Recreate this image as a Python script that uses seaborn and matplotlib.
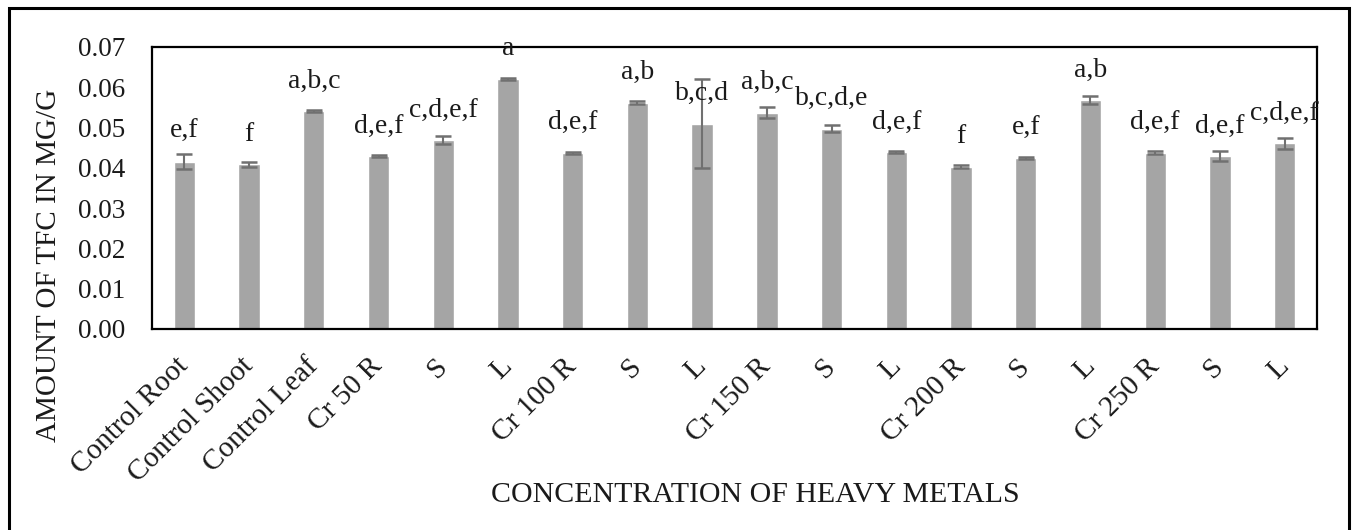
import matplotlib
matplotlib.use("Agg")
import matplotlib.pyplot as plt
import seaborn as sns
import pandas as pd
import numpy as np
from matplotlib.patches import Rectangle

categories = ["Control Root", "Control Shoot", "Control Leaf", "Cr 50 R", "S", "L",
              "Cr 100 R", "S", "L", "Cr 150 R", "S", "L",
              "Cr 200 R", "S", "L", "Cr 250 R", "S", "L"]
values = [0.0415, 0.0409, 0.0541, 0.0429, 0.0469, 0.0621,
          0.0437, 0.0562, 0.0510, 0.0537, 0.0497, 0.0439,
          0.0403, 0.0424, 0.0568, 0.0438, 0.0429, 0.0461]
errors = [0.0019, 0.0006, 0.0003, 0.0003, 0.0010, 0.0003,
          0.0003, 0.0003, 0.0110, 0.0014, 0.0009, 0.0003,
          0.0003, 0.0003, 0.0010, 0.0003, 0.0012, 0.0013]
letters = ["e,f", "f", "a,b,c", "d,e,f", "c,d,e,f", "a",
           "d,e,f", "a,b", "b,c,d", "a,b,c", "b,c,d,e", "d,e,f",
           "f", "e,f", "a,b", "d,e,f", "d,e,f", "c,d,e,f"]
yticks = [0.00, 0.01, 0.02, 0.03, 0.04, 0.05, 0.06, 0.07]

sns.set_theme(style="white")
plt.rcParams['font.family'] = ['Liberation Serif', 'DejaVu Serif']

W, H = 1359, 530
fig = plt.figure(figsize=(W / 100, H / 100), dpi=100)
ax = fig.add_axes([152 / W, 1 - 329 / H, (1317 - 152) / W, (329 - 47) / H])

df = pd.DataFrame({"key": [str(i) for i in range(len(categories))], "value": values})
sns.barplot(data=df, x="key", y="value", color="#a5a5a5", saturation=1,
            width=0.33, ax=ax, errorbar=None)
pos = np.arange(len(categories))
ax.errorbar(pos, values, yerr=errors, fmt="none", ecolor="#707070",
            elinewidth=1.5, capsize=6, capthick=1.8, zorder=3)

for x, v, t in zip(pos, values, letters):
    ax.annotate(t, xy=(x, v), xytext=(0, 17), textcoords="offset points",
                ha="center", va="baseline", fontsize=20, color="#1a1a1a",
                annotation_clip=False)

ax.set_ylim(0, 0.07)
ax.set_xlim(-0.5, len(categories) - 0.5)
ax.set_yticks(yticks)
ax.set_yticklabels([f"{t:.2f}" for t in yticks], fontsize=19.5, color="#1a1a1a")
ax.set_xticks(pos)
ax.set_xticklabels(categories, rotation=45, rotation_mode="anchor",
                   ha="right", va="center", fontsize=21, color="#1a1a1a")
ax.tick_params(axis="y", length=0, pad=19)
ax.tick_params(axis="x", length=0, pad=24)
ax.set_xlabel("")
ax.set_ylabel("")
for s in ax.spines.values():
    s.set_visible(True)
    s.set_color("black")
    s.set_linewidth(1.6)

fig.text(49 / W, 1 - 265 / H, "AMOUNT OF TFC IN MG/G", rotation=90,
         ha="center", va="center", fontsize=21, color="#1a1a1a")
fig.text(755 / W, 1 - 495 / H, "CONCENTRATION OF HEAVY METALS",
         ha="center", va="center", fontsize=21.5, color="#1a1a1a")

fig.patches.append(Rectangle((9 / W, -0.05), (1349 - 9) / W, 1.05 - 8 / H,
                             transform=fig.transFigure, fill=False,
                             edgecolor="black", linewidth=2.2))

fig.savefig("out.png", dpi=100)
